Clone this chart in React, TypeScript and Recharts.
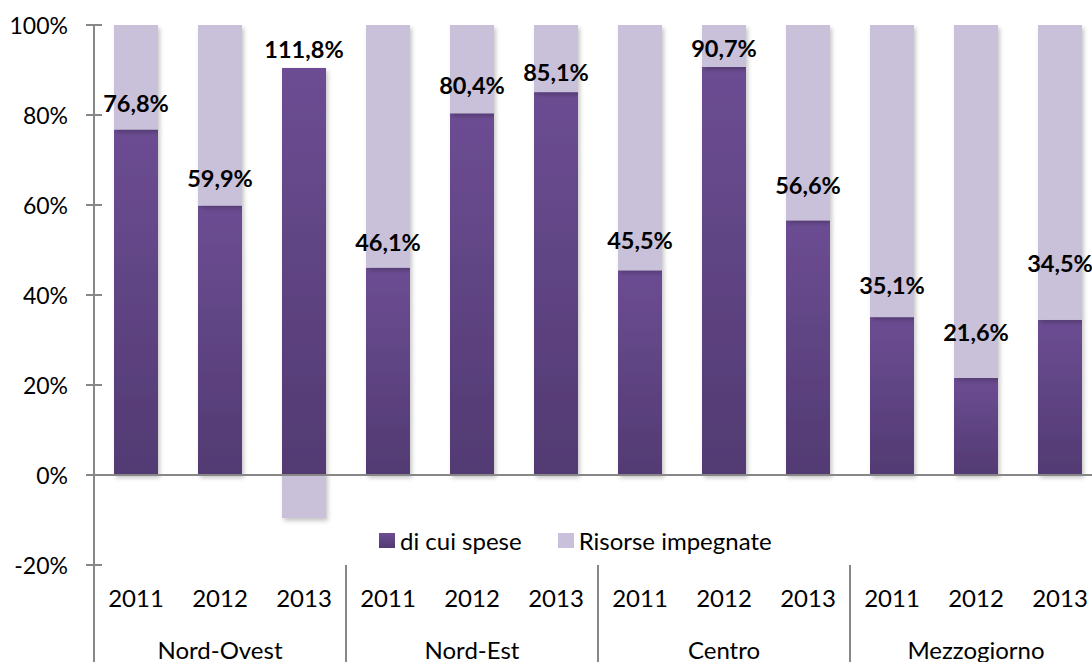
import React from 'react';
import { BarChart, Bar, XAxis, YAxis, Legend, LabelList, ReferenceLine } from 'recharts';

// areas and years of the two-level category axis
const groups = ['Nord-Ovest', 'Nord-Est', 'Centro', 'Mezzogiorno'];
const years = ['2011', '2012', '2013'];

// "di cui spese" as % of the committed resources, one per area/year
const spese = [76.8, 59.9, 111.8, 46.1, 80.4, 85.1, 45.5, 90.7, 56.6, 35.1, 21.6, 34.5];

const seriesNames = ['di cui spese', 'Risorse impegnate'];
const yTicks = [-20, 0, 20, 40, 60, 80, 100];

// how far (px) each value label sits above its bar
const labelLift = [26, 27, 19, 26, 28, 20, 30, 19, 35, 32, 46, 57];

const FONT = 'Lato, "Open Sans", sans-serif';
const AXIS_GREY = '#878787';
const LIGHT = '#C9C0DA';

const CHART_W = 1110;
const CHART_H = 662;
const Y_W = 94;
const X_H = 97;
const MARGIN = { top: 25, right: 8, bottom: 0, left: 0 };
const BAND = (CHART_W - MARGIN.left - MARGIN.right - Y_W) / spese.length;

const fmt = (v: number) => v.toFixed(1).replace('.', ',') + '%';

// 100% stacked like Excel does it: shares of the absolute total
const data = groups.flatMap((g, gi) =>
  years.map((yr, yi) => {
    const i = gi * years.length + yi;
    const v = spese[i];
    const rest = 100 - v;
    const tot = Math.abs(v) + Math.abs(rest);
    return {
      key: `${g} ${yr}`,
      group: g,
      year: yr,
      spese: (v / tot) * 100,
      impegnate: (rest / tot) * 100,
      label: fmt(v),
    };
  })
);

const ShadowRect = (props: any) => {
  const { x, y, width, height, fill } = props;
  if (!width || !height) return null;
  const top = Math.min(y, y + height);
  return (
    <rect
      x={x}
      y={top}
      width={width}
      height={Math.abs(height)}
      fill={fill}
      filter="url(#barShadow)"
    />
  );
};

const YTick = (props: any) => {
  const { x, y, payload } = props;
  return (
    <g>
      <line x1={x - 8} x2={x + 8} y1={y} y2={y} stroke={AXIS_GREY} strokeWidth={2} />
      <text
        x={x - 26}
        y={y}
        textAnchor="end"
        dominantBaseline="central"
        fontFamily={FONT}
        fontSize={23}
        fill="#000"
      >
        {payload.value}%
      </text>
    </g>
  );
};

const XTick = (props: any) => {
  const { x, y, payload } = props;
  const idx = data.findIndex((d) => d.key === payload.value);
  if (idx < 0) return null;
  const row = data[idx];
  const pos = idx % years.length;
  return (
    <g>
      <text
        x={x}
        y={y + 32}
        textAnchor="middle"
        dominantBaseline="central"
        fontFamily={FONT}
        fontSize={24}
        fill="#000"
      >
        {row.year}
      </text>
      {pos === 1 && (
        <text
          x={x}
          y={y + 84}
          textAnchor="middle"
          dominantBaseline="central"
          fontFamily={FONT}
          fontSize={24}
          fill="#000"
        >
          {row.group}
        </text>
      )}
      {pos === 0 && (
        <line
          x1={x - BAND / 2}
          x2={x - BAND / 2}
          y1={y}
          y2={y + X_H}
          stroke={AXIS_GREY}
          strokeWidth={2}
        />
      )}
    </g>
  );
};

const ValueLabel = (props: any) => {
  const { x, y, width, index, value } = props;
  return (
    <text
      x={x + width / 2}
      y={y - labelLift[index]}
      textAnchor="middle"
      dominantBaseline="central"
      fontFamily={FONT}
      fontWeight={700}
      fontSize={23.5}
      fill="#000"
    >
      {value}
    </text>
  );
};

const LegendContent = (props: any) => {
  const items = [...(props.payload || [])].sort(
    (a: any, b: any) => seriesNames.indexOf(a.value) - seriesNames.indexOf(b.value)
  );
  return (
    <div style={{ display: 'flex', alignItems: 'center', fontFamily: FONT, fontSize: 24, color: '#000' }}>
      {items.map((entry: any, i: number) => (
        <div key={i} style={{ display: 'flex', alignItems: 'center', marginRight: 36 }}>
          <svg width={16} height={15} style={{ marginRight: 5 }}>
            <rect width={16} height={15} fill={entry.color} />
          </svg>
          <span>{entry.value}</span>
        </div>
      ))}
    </div>
  );
};

export default function App() {
  return (
    <div
      style={{
        position: 'fixed',
        left: 0,
        top: 0,
        width: 1092,
        height: 662,
        overflow: 'hidden',
        background: '#fff',
      }}
    >
      <BarChart
        width={CHART_W}
        height={CHART_H}
        data={data}
        margin={MARGIN}
        stackOffset="sign"
        barSize={44}
      >
        <defs>
          <linearGradient id="darkFill" x1="0" y1="0" x2="0" y2="1">
            <stop offset="0%" stopColor="#6C4D93" />
            <stop offset="100%" stopColor="#523A72" />
          </linearGradient>
          <filter id="barShadow" x="-20%" y="-20%" width="150%" height="150%">
            <feDropShadow dx={2} dy={3} stdDeviation={2} floodColor="#000" floodOpacity={0.22} />
          </filter>
        </defs>
        <XAxis
          dataKey="key"
          height={X_H}
          axisLine={false}
          tickLine={false}
          tickSize={0}
          tickMargin={0}
          interval={0}
          tick={<XTick />}
        />
        <YAxis
          width={Y_W}
          domain={[-20, 100]}
          ticks={yTicks}
          allowDataOverflow
          axisLine={{ stroke: AXIS_GREY, strokeWidth: 2 }}
          tickLine={false}
          tickSize={0}
          tickMargin={0}
          tick={<YTick />}
        />
        <Bar
          dataKey="spese"
          name={seriesNames[0]}
          stackId="a"
          fill="url(#darkFill)"
          shape={<ShadowRect />}
          isAnimationActive={false}
        >
          <LabelList dataKey="label" content={<ValueLabel />} />
        </Bar>
        <Bar
          dataKey="impegnate"
          name={seriesNames[1]}
          stackId="a"
          fill={LIGHT}
          shape={<ShadowRect />}
          isAnimationActive={false}
        />
        <ReferenceLine y={0} stroke={AXIS_GREY} strokeWidth={2} />
        <Legend
          layout="horizontal"
          verticalAlign="middle"
          align="center"
          wrapperStyle={{ left: 379, top: 526, width: 460, height: 28 }}
          content={<LegendContent />}
        />
      </BarChart>
    </div>
  );
}
